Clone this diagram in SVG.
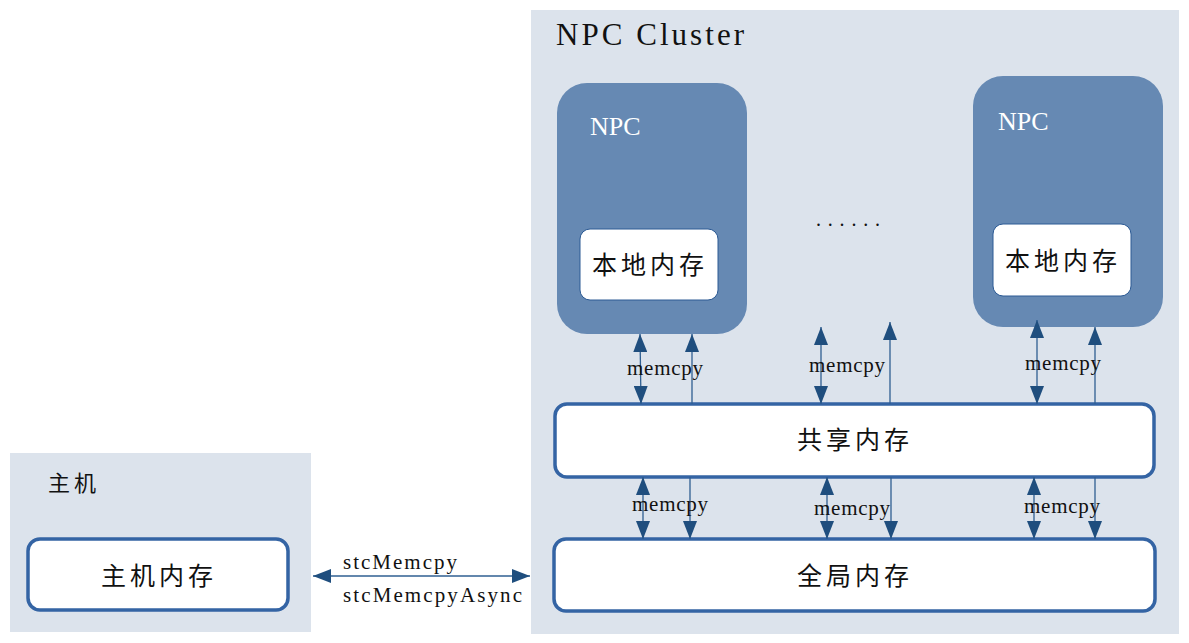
<svg xmlns="http://www.w3.org/2000/svg" width="1189" height="643" viewBox="0 0 1189 643">
<style>
.bg{fill:#dce3ec}
.npc{fill:#6689b3}
.box{fill:#fff;stroke:#3464a4;stroke-width:3.5}
.lbox{fill:#fff;stroke:#2c5a94;stroke-width:1}
.cjk{font-family:"Noto Sans CJK SC",sans-serif;fill:#111;letter-spacing:4px}
.mono{font-family:"Liberation Serif",serif;fill:#111}
.npct{font-family:"Liberation Serif",serif;fill:#fff;font-size:26px}
.ln{stroke:#2f5f92;stroke-width:1.3;fill:none}
</style>
<defs>
<marker id="ah" viewBox="0 0 18 14" refX="18" refY="7" markerWidth="18" markerHeight="14" markerUnits="userSpaceOnUse" orient="auto-start-reverse">
<path d="M0,0 L18,7 L0,14 Z" fill="#1f4e7e"/>
</marker>
</defs>
<rect class="bg" x="531" y="10" width="648" height="624"/>
<rect class="bg" x="10" y="453" width="301" height="179"/>
<text class="mono" x="556" y="45" font-size="31" textLength="188">NPC Cluster</text>
<text class="cjk" x="48" y="491" font-size="22">主机</text>
<g id="host-mem">
<rect class="box" x="28" y="539" width="260" height="71" rx="12"/>
<text class="cjk" x="101" y="585" font-size="25">主机内存</text>
</g>
<g id="npc1">
<rect class="npc" x="557" y="83" width="190" height="251" rx="30"/>
<text class="npct" x="590" y="135">NPC</text>
<g id="local1">
<rect class="lbox" x="580" y="229" width="138" height="71" rx="10"/>
<text class="cjk" x="592" y="274" font-size="25">本地内存</text>
</g>
</g>
<g id="npc2">
<rect class="npc" x="973" y="76" width="190" height="251" rx="30"/>
<text class="npct" x="998" y="130">NPC</text>
<g id="local2">
<rect class="lbox" x="993" y="224" width="138" height="72" rx="10"/>
<text class="cjk" x="1005" y="270" font-size="25">本地内存</text>
</g>
</g>
<text class="mono" x="816" y="226" font-size="20" textLength="64">......</text>
<g id="shared">
<rect class="box" x="555" y="404" width="599" height="73" rx="12"/>
<text class="cjk" x="797" y="449" font-size="25">共享内存</text>
</g>
<g id="global">
<rect class="box" x="554" y="539" width="601" height="72" rx="12"/>
<text class="cjk" x="797" y="585" font-size="25">全局内存</text>
</g>
<g id="connectors">
<line class="ln" x1="640" y1="334" x2="641" y2="404" marker-start="url(#ah)" marker-end="url(#ah)"/>
<line class="ln" x1="692" y1="404" x2="692" y2="334" marker-end="url(#ah)"/>
<line class="ln" x1="821" y1="327" x2="821" y2="404" marker-start="url(#ah)" marker-end="url(#ah)"/>
<line class="ln" x1="890" y1="404" x2="890" y2="322" marker-end="url(#ah)"/>
<line class="ln" x1="1037" y1="320" x2="1037" y2="404" marker-start="url(#ah)" marker-end="url(#ah)"/>
<line class="ln" x1="1095" y1="404" x2="1095" y2="327" marker-end="url(#ah)"/>
<line class="ln" x1="643" y1="477" x2="643" y2="539" marker-start="url(#ah)" marker-end="url(#ah)"/>
<line class="ln" x1="690" y1="477" x2="690" y2="539" marker-end="url(#ah)"/>
<line class="ln" x1="827" y1="477" x2="827" y2="539" marker-start="url(#ah)" marker-end="url(#ah)"/>
<line class="ln" x1="891" y1="477" x2="891" y2="539" marker-end="url(#ah)"/>
<line class="ln" x1="1034" y1="477" x2="1034" y2="539" marker-start="url(#ah)" marker-end="url(#ah)"/>
<line class="ln" x1="1095" y1="477" x2="1095" y2="539" marker-end="url(#ah)"/>
<line class="ln" x1="313" y1="576" x2="530" y2="576" marker-start="url(#ah)" marker-end="url(#ah)"/>
<text class="mono" x="627" y="375" font-size="21" textLength="76">memcpy</text>
<text class="mono" x="809" y="372" font-size="21" textLength="76">memcpy</text>
<text class="mono" x="1025" y="370" font-size="21" textLength="76">memcpy</text>
<text class="mono" x="632" y="511" font-size="21" textLength="76">memcpy</text>
<text class="mono" x="814" y="515" font-size="21" textLength="76">memcpy</text>
<text class="mono" x="1024" y="513" font-size="21" textLength="76">memcpy</text>
<text class="mono" x="343" y="569" font-size="21" textLength="114">stcMemcpy</text>
<text class="mono" x="343" y="602" font-size="21" textLength="179">stcMemcpyAsync</text>
</g>
</svg>
